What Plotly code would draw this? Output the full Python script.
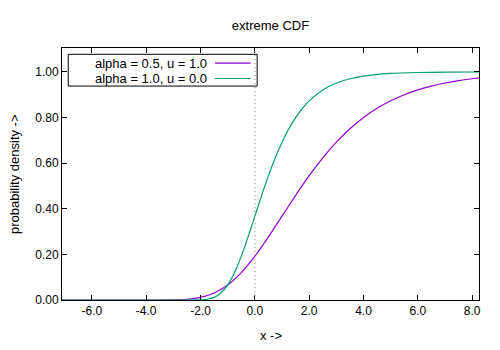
import plotly.graph_objects as go

# ---- data ----
x_a = [-7.1, -5.0, -4.0, -3.5, -3.0, -2.5, -2.0, -1.5, -1.0, -0.5, 0.0, 0.5, 1.0, 1.5,
       2.0, 2.5, 3.0, 3.5, 4.0, 4.5, 5.0, 5.5, 6.0, 6.5, 7.0, 7.5, 8.0, 8.25]
y_a = [0.0, 0.0, 0.00001, 0.00008, 0.0006, 0.0032, 0.0113, 0.0305, 0.0660, 0.1204,
       0.1923, 0.2769, 0.3679, 0.4589, 0.5452, 0.6235, 0.6922, 0.7509, 0.8000, 0.8405,
       0.8734, 0.9000, 0.9212, 0.9381, 0.9514, 0.9619, 0.9702, 0.9737]

x_b = [-7.1, -4.0, -3.0, -2.5, -2.0, -1.75, -1.5, -1.25, -1.0, -0.75, -0.5, -0.25, 0.0,
       0.25, 0.5, 0.75, 1.0, 1.25, 1.5, 1.75, 2.0, 2.5, 3.0, 3.5, 4.0, 5.0, 6.0, 7.0, 8.25]
y_b = [0.0, 0.0, 0.0, 0.00001, 0.0006, 0.0032, 0.0113, 0.0305, 0.0660, 0.1204, 0.1923,
       0.2769, 0.3679, 0.4589, 0.5452, 0.6235, 0.6922, 0.7509, 0.8000, 0.8405, 0.8734,
       0.9212, 0.9514, 0.9702, 0.9819, 0.9933, 0.9975, 0.9991, 0.9997]

series_names = ["alpha = 0.5, u = 1.0", "alpha = 1.0, u = 0.0"]
series_colors = ["#9400D3", "#009E73"]

x_ticks = [-6, -4, -2, 0, 2, 4, 6, 8]
x_ticktext = ["-6.0", "-4.0", "-2.0", "0.0", "2.0", "4.0", "6.0", "8.0"]
y_ticks = [0, 0.2, 0.4, 0.6, 0.8, 1.0]
y_ticktext = ["0.00", "0.20", "0.40", "0.60", "0.80", "1.00"]

title = "extreme CDF"
x_label = "x ->"
y_label = "probability density ->"

FONT = "Liberation Sans, Arial, sans-serif"

fig = go.Figure()
for xs, ys, nm, col in [(x_a, y_a, series_names[0], series_colors[0]),
                        (x_b, y_b, series_names[1], series_colors[1])]:
    fig.add_trace(go.Scatter(x=xs, y=ys, mode="lines", name=nm,
                             line=dict(color=col, width=1.2, shape="spline", smoothing=0.6),
                             showlegend=False))

# zero axis (dotted)
fig.add_shape(type="line", xref="x", yref="paper", x0=0, x1=0, y0=0, y1=1,
              line=dict(color="#888888", width=1, dash="1px,3px"), layer="above")

# legend box (gnuplot style: text then sample)
fig.add_shape(type="rect", xref="paper", yref="paper", x0=0.015, x1=0.468,
              y0=0.849, y1=0.975, line=dict(color="black", width=1),
              layer="above")
leg_y = [0.940, 0.879]
for i in range(2):
    fig.add_shape(type="line", xref="paper", yref="paper", x0=0.367, x1=0.4525,
                  y0=leg_y[i], y1=leg_y[i], line=dict(color=series_colors[i], width=1.2))
    fig.add_annotation(xref="paper", yref="paper", x=0.3525, y=leg_y[i],
                       text=series_names[i], showarrow=False, xanchor="right",
                       yanchor="middle", font=dict(family=FONT, size=13, color="black"))

# axis titles
fig.add_annotation(xref="paper", yref="paper", x=0.5, y=-0.14, text=x_label,
                   showarrow=False, xanchor="center", yanchor="middle",
                   font=dict(family=FONT, size=13))
fig.add_annotation(xref="paper", yref="paper", x=-0.115, y=0.5, text=y_label,
                   showarrow=False, xanchor="center", yanchor="middle", textangle=-90,
                   font=dict(family=FONT, size=13))

# the page places the figure 8px from the window's top-left corner
fig.update_layout(
    width=492, height=342,
    margin=dict(l=54, r=21, t=40, b=50),
    paper_bgcolor="white", plot_bgcolor="white",
    font=dict(family=FONT, size=12, color="black"),
    title=dict(text=title, xref="paper", x=0.5, xanchor="center", y=0.950,
               yanchor="middle", font=dict(family=FONT, size=13)),
    xaxis=dict(range=[-7.1, 8.25], tickvals=x_ticks, ticktext=x_ticktext,
               ticks="inside", ticklen=5, tickcolor="black", showline=True,
               linecolor="black", linewidth=1, mirror="ticks", showgrid=False,
               zeroline=False, automargin=False,
               tickfont=dict(family=FONT, size=12)),
    yaxis=dict(range=[0, 1.105], tickvals=y_ticks, ticktext=y_ticktext,
               ticks="inside", ticklen=5, tickcolor="black", showline=True,
               linecolor="black", linewidth=1, mirror="ticks", showgrid=False,
               zeroline=False, automargin=False,
               tickfont=dict(family=FONT, size=12)),
)

fig.write_html("out.html")
